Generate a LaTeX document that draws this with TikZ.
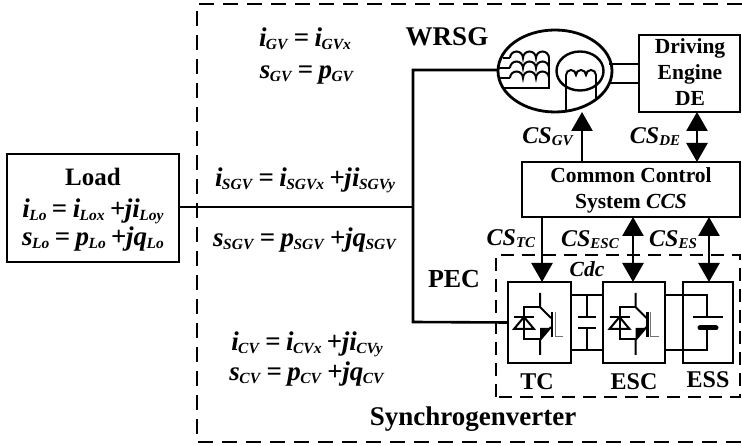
\documentclass[tikz,border=0pt]{standalone}
\usepackage{fontspec}
\setmainfont{Liberation Serif}
\usetikzlibrary{arrows.meta,shapes.geometric,calc}
\newcommand\vs[2]{\textit{#1}\kern-0.02em\raisebox{-3pt}{\fontsize{15.5}{15.5}\selectfont\textit{#2}}}
\newcommand\csl[2]{\textit{#1}\raisebox{-2pt}{\fontsize{15}{15}\selectfont\textit{#2}}}
\newcommand\pl{\hspace{0.2em}+\kern-0.02em\textit{j}}
\newcommand\eqs{\hspace{0.2em}=\hspace{0.2em}}
\tikzset{
  every node/.style={inner sep=0pt,outer sep=0pt},
  wire/.style={line width=2.6pt,black},
  thin wire/.style={line width=2pt,black},
  box/.style={draw,line width=2.8pt,rectangle,fill=none},
  big/.style={anchor=base,font=\fontsize{27}{27}\selectfont\bfseries},
  mid/.style={anchor=base,font=\fontsize{24}{24}\selectfont\bfseries},
  eq/.style={anchor=base,font=\fontsize{27}{27}\selectfont\bfseries},
  cslab/.style={anchor=base,font=\fontsize{24}{24}\selectfont\bfseries},
  small/.style={anchor=base,font=\fontsize{21.5}{21.5}\selectfont\bfseries},
  outer dash/.style={line width=2.2pt,dash pattern=on 15pt off 9pt},
  inner dash/.style={line width=2.2pt,dash pattern=on 13pt off 8pt},
  solid head/.style={-{Triangle[length=19pt,width=21pt]}},
  both head/.style={{Triangle[length=19pt,width=21pt]}-{Triangle[length=19pt,width=21pt]}},
  igbt/.pic={
    \draw[thin wire] (0,-29) -- (0,-15) -- (11,-4);
    \draw[thin wire] (0,-15) -- (-16,-15) -- (-16,17) -- (0,17);
    \draw[thin wire] (11,5) -- (0,18) -- (0,33);
    \draw[line width=2.6pt] (12,-10) -- (12,15);
    \draw[line width=1pt,black!55] (15,-10) -- (15,15) -- (23,15);
    \fill (10,6) -- (0,18) -- (0,6) -- cycle;
    \draw[thin wire] (-26,-5) -- (-6,-5);
    \draw[thin wire] (-16,-5) -- (-26,7) -- (-6,7) -- cycle;
  },
  coil/.pic={
    \draw[thin wire] (0,0) arc[start angle=180,end angle=0,radius=6.5pt] arc[start angle=180,end angle=0,radius=6.5pt] arc[start angle=180,end angle=0,radius=6.5pt];
  },
  smallcoil/.pic={
    \draw[thin wire] (0,0) arc[start angle=180,end angle=0,radius=5pt] arc[start angle=180,end angle=0,radius=5pt] arc[start angle=180,end angle=0,radius=5pt];
  }
}
\begin{document}
\begin{tikzpicture}[x=1pt,y=-1pt]
\useasboundingbox[fill=white] (0,0) rectangle (742,446);
% frames
\draw[outer dash] (742,4) -- (197,4) -- (197,442) -- (742,442);
\draw[inner dash] (496,397) -- (496,255) -- (740,255) -- (740,397) -- cycle;
% boxes
\node[box,minimum width=172pt,minimum height=108pt] (load) at (93,208) {};
\node[box,minimum width=101pt,minimum height=77pt] (de) at (689.5,73.5) {};
\node[box,minimum width=218pt,minimum height=55pt] (ccs) at (631,189.5) {};
\node[box,minimum width=63pt,minimum height=81pt] (tc) at (539.5,322.5) {};
\node[box,minimum width=62pt,minimum height=81pt] (esc) at (634,322.5) {};
\node[box,minimum width=50pt,minimum height=81pt] (ess) at (708,322.5) {};
% generator
\node[draw,ellipse,line width=2.8pt,minimum width=114pt,minimum height=82pt] (gen) at (555,71) {};
\node[draw,ellipse,line width=2.4pt,minimum width=47pt,minimum height=39pt] (rotor) at (580,71) {};
% stator
\pic at (510,58) {coil};
\pic at (510,68) {coil};
\pic at (510,78) {coil};
\draw[thin wire] (549,58) -- (549,88) -- (503,88);
\draw[thin wire] (503,58) -- (510,58);
\draw[thin wire] (499,68) -- (510,68);
\draw[thin wire] (499,78) -- (510,78);
% rotor coil
\pic at (566,75) {smallcoil};
\draw[thin wire] (566,75) -- (566,110);
\draw[thin wire] (596,75) -- (596,99);
% shaft
\coordinate (sh1) at (de.west |- 0,64);
\coordinate (sh2) at (de.west |- 0,83);
\draw[wire] (sh1) -- (609,64);
\draw[wire] (sh2) -- (609,83);
% bus
\coordinate (jn) at (413,207);
\coordinate (gin) at (gen.west |- 0,70);
\draw[wire] (load.east |- jn) -- (jn);
\draw[wire] (gin) -- (413,70) -- (jn) -- (413,322) -- (tc.west);
% control arrows
\coordinate (xgv) at (582,0);
\coordinate (xde) at (697,0);
\coordinate (xtc) at (542,0);
\coordinate (xesc) at (633,0);
\coordinate (xes) at (709,0);
\draw[wire,solid head] (ccs.north -| xgv) -- (xgv |- gen.south);
\draw[wire,both head] (ccs.north -| xde) -- (de.south -| xde);
\draw[wire,solid head] (ccs.south -| xtc) -- (tc.north -| xtc);
\draw[wire,both head] (ccs.south -| xesc) -- (esc.north -| xesc);
\draw[wire,both head] (ccs.south -| xes) -- (ess.north -| xes);
% dc link
\coordinate (dc1) at (0,295);
\coordinate (dc2) at (0,350);
\draw[wire] (tc.east |- dc1) -- (esc.west |- dc1);
\draw[wire] (tc.east |- dc2) -- (esc.west |- dc2);
\draw[wire] (587,295) -- (587,317);
\draw[wire] (587,328) -- (587,350);
\draw[line width=2.8pt] (578,317) -- (596,317);
\draw[line width=2.8pt] (578,328) -- (596,328);
\draw[wire] (esc.east |- dc1) -- (707,295) -- (707,317);
\draw[wire] (esc.east |- dc2) -- (707,350) -- (707,328);
\draw[line width=2.4pt] (693,317) -- (723,317);
\draw[line width=5pt,line cap=round] (700,328) -- (716,328);
% switches
\pic at (540,322) {igbt};
\pic at (635.5,322) {igbt};
% texts
\node[mid,font=\fontsize{25}{25}\selectfont\bfseries] (tload) at (93,186) {Load};
\node[eq] (t1) at (93,218) {\vs{i}{Lo}\eqs\vs{i}{Lox}\pl\vs{i}{Loy}};
\node[eq] (t2) at (93,246) {\vs{s}{Lo}\eqs\vs{p}{Lo}\pl\vs{q}{Lo}};
\node[eq] (t3) at (305,47) {\vs{i}{GV}\eqs\vs{i}{GVx}};
\node[eq] (t4) at (307,79) {\vs{s}{GV}\eqs\vs{p}{GV}};
\node[eq] (t5) at (305,187) {\vs{i}{SGV}\eqs\vs{i}{SGVx}\pl\vs{i}{SGVy}};
\node[eq] (t6) at (305,247) {\vs{s}{SGV}\eqs\vs{p}{SGV}\pl\vs{q}{SGV}};
\node[eq] (t7) at (307,351) {\vs{i}{CV}\eqs\vs{i}{CVx}\pl\vs{i}{CVy}};
\node[eq] (t8) at (307,381) {\vs{s}{CV}\eqs\vs{p}{CV}\pl\vs{q}{CV}};
\node[big] (twr) at (447,46) {WRSG};
\node[small] (td1) at (690,54) {Driving};
\node[small] (td2) at (690,80) {Engine};
\node[small] (td3) at (690,106) {DE};
\node[small] (tc1) at (631,183) {Common Control};
\node[small] (tc2) at (631,209) {System \textit{CCS}};
\node[cslab] (l1) at (548,144) {\csl{CS}{GV}};
\node[cslab] (l2) at (655,144) {\csl{CS}{DE}};
\node[cslab] (l3) at (511,246) {\csl{CS}{TC}};
\node[cslab] (l4) at (590,247) {\csl{CS}{ESC}};
\node[cslab] (l5) at (673,247) {\csl{CS}{ES}};
\node[small] (cdc) at (587,277) {\textit{Cdc}};
\node[mid,font=\fontsize{26}{26}\selectfont\bfseries] (pec) at (454,288) {PEC};
\node[mid] (ttc) at (537,390) {TC};
\node[mid] (tesc) at (634,390) {ESC};
\node[mid] (tess) at (708,388) {ESS};
\node[big] (tsyn) at (473,425) {Synchrogenverter};
\end{tikzpicture}
\end{document}
